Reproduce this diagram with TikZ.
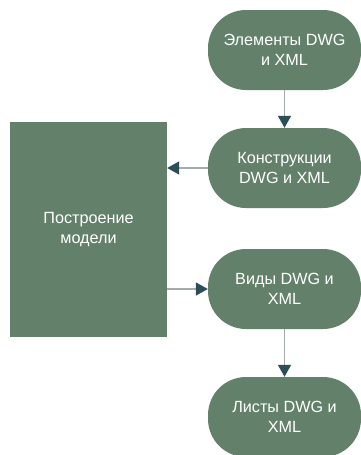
\documentclass[tikz,border=0pt]{standalone}
\usepackage{fontspec}
\setmainfont{Liberation Sans}
\usetikzlibrary{arrows.meta}
\definecolor{boxgreen}{RGB}{99,129,106}
\definecolor{tipdark}{RGB}{44,78,86}
\definecolor{linegray}{RGB}{165,170,170}
\tikzset{
  term/.style={fill=boxgreen, draw=none, rounded corners=38pt, minimum width=153pt, minimum height=80pt,
    text=white, align=center, font=\fontsize{16.2pt}{20pt}\selectfont, inner sep=0pt},
  procbox/.style={fill=boxgreen, draw=none, minimum width=157pt, minimum height=215pt,
    text=white, align=center, font=\fontsize{16.2pt}{20pt}\selectfont, inner sep=0pt},
  conn/.style={draw=linegray, line width=1.6pt, -{Triangle[color=tipdark,length=12pt,width=13pt]}}
}
\begin{document}
\begin{tikzpicture}[x=1pt,y=-1pt]
\useasboundingbox (0,0) rectangle (361,455);
\node[term] (t1) at (284.5,50) {Элементы DWG\\и XML};
\node[term] (t2) at (284.5,168) {Конструкции\\DWG и XML};
\node[procbox] (pm) at (88.5,229.5) {Построение\\модели};
\node[term] (t3) at (284.5,289) {Виды DWG и\\XML};
\node[term] (t4) at (284.5,417) {Листы DWG и\\XML};
\draw[conn] (t1) -- (t2);
\draw[conn] (t2) -- (pm.east |- t2);
\draw[conn] (pm.east |- t3) -- (t3);
\draw[conn] (t3) -- (t4);
\end{tikzpicture}
\end{document}
